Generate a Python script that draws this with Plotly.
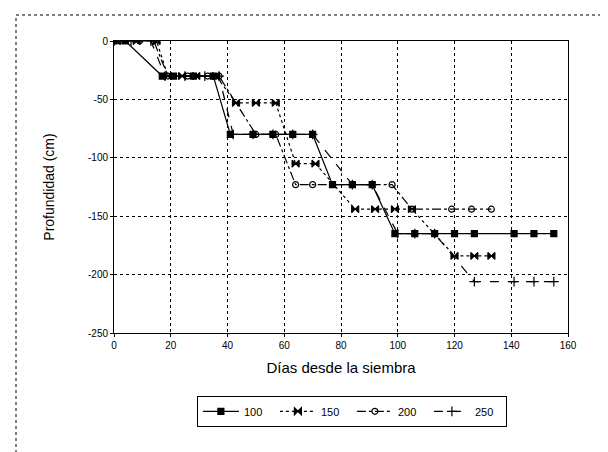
import plotly.graph_objects as go

series_names = ["100", "150", "200", "250"]

days_a = [0, 4, 17, 21, 28, 35, 41, 49, 56, 63, 70, 77, 84, 91, 99, 106, 113, 120, 127, 141, 148, 155]
depth_a = [0, 0, -30, -30, -30, -30, -80, -80, -80, -80, -80, -123, -123, -123, -165, -165, -165, -165, -165, -165, -165, -165]

days_b = [1, 8, 15, 19, 24, 29, 36, 43, 50, 57, 64, 71, 85, 92, 99, 105, 120, 127, 133]
depth_b = [0, 0, 0, -30, -30, -30, -30, -53, -53, -53, -105, -105, -144, -144, -144, -144, -184, -184, -184]

days_c = [2, 9, 14, 19, 26, 33, 37, 50, 57, 64, 70, 98, 105, 119, 126, 133]
depth_c = [0, 0, 0, -30, -30, -30, -30, -80, -80, -123, -123, -123, -144, -144, -144, -144]

days_d = [0, 6, 13, 18, 25, 32, 37, 42, 49, 56, 63, 70, 84, 91, 100, 106, 113, 127, 141, 148, 155]
depth_d = [0, 0, 0, -30, -30, -30, -30, -80, -80, -80, -80, -80, -123, -123, -165, -165, -165, -206, -206, -206, -206]

x_ticks = [0, 20, 40, 60, 80, 100, 120, 140, 160]
y_ticks = [0, -50, -100, -150, -200, -250]

styles = [
    dict(dash="solid", symbol="square", size=6),
    dict(dash="dot", symbol="bowtie", size=7),
    dict(dash="dashdot", symbol="circle-open", size=6),
    dict(dash="dash", symbol="cross-thin-open", size=7),
]

fig = go.Figure()
for name, xs, ys, st in zip(series_names,
                            [days_a, days_b, days_c, days_d],
                            [depth_a, depth_b, depth_c, depth_d],
                            styles):
    fig.add_trace(go.Scatter(
        x=xs, y=ys, name=name, mode="lines+markers",
        line=dict(color="black", width=1.2, dash=st["dash"]),
        marker=dict(color="black", symbol=st["symbol"], size=st["size"],
                    line=dict(color="black", width=1.2)),
    ))

axis_font = dict(family="Liberation Sans, Arial, sans-serif", size=10, color="black")
fig.update_layout(
    width=608, height=452,
    margin=dict(l=106, r=48, t=33, b=127),
    paper_bgcolor="white", plot_bgcolor="white",
    font=axis_font,
    showlegend=True,
    legend=dict(orientation="h", x=0.524, xanchor="center", y=-0.215, yanchor="top",
                bordercolor="black", borderwidth=1,
                font=dict(size=11, color="black", family="Liberation Sans, Arial, sans-serif"),
                itemwidth=36, tracegroupgap=0, entrywidth=26),
    xaxis=dict(range=[0, 160], tickvals=x_ticks, ticktext=[str(v) for v in x_ticks],
               showgrid=True, gridcolor="black", griddash="dot", gridwidth=1,
               showline=True, linecolor="black", linewidth=1, mirror=True,
               ticks="outside", ticklen=3, tickcolor="black", zeroline=False,
               title=dict(text="Días desde la siembra", font=dict(size=15), standoff=12)),
    yaxis=dict(range=[-250, 0], tickvals=y_ticks, ticktext=[str(v) for v in y_ticks],
               showgrid=True, gridcolor="black", griddash="dot", gridwidth=1,
               showline=True, linecolor="black", linewidth=1, mirror=True,
               ticks="outside", ticklen=3, tickcolor="black", zeroline=False,
               title=dict(text="Profundidad (cm)", font=dict(size=14), standoff=30)),
)

# outer dotted page frame
fig.add_shape(type="rect", xref="paper", yref="paper",
              x0=(8 - 106) / 454, x1=(620 - 106) / 454,
              y0=(325 - 460) / 292, y1=(325 - 7) / 292,
              line=dict(color="black", width=1, dash="dot"))

fig.write_html("out.html")
